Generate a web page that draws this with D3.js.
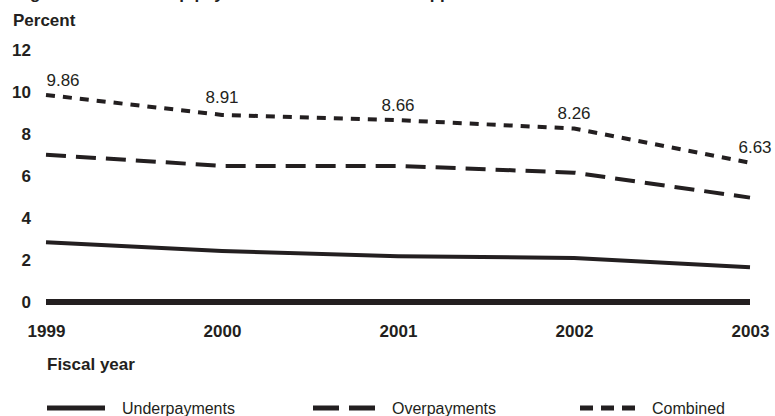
<!DOCTYPE html>
<html>
<head>
<meta charset="utf-8">
<script src="https://cdn.jsdelivr.net/npm/d3@7"></script>
<style>
  body { margin: 0; background: #fff; }
  text { font-family: "Liberation Sans", Arial, sans-serif; fill: #231f20; }
</style>
</head>
<body>
<svg id="chart"></svg>
<script>
let years = ["1999", "2000", "2001", "2002", "2003"];
let underpayments = [2.85, 2.43, 2.18, 2.10, 1.66];
let overpayments = [7.01, 6.48, 6.48, 6.16, 4.97];
let combined = [9.86, 8.91, 8.66, 8.26, 6.63];
let yTicks = [0, 2, 4, 6, 8, 10, 12];
let seriesNames = ["Underpayments", "Overpayments", "Combined"];

let makeChart = function () {
    let width = 775, height = 416;
    let svg = d3.select("#chart")
        .attr("width", width)
        .attr("height", height);

    let x = d3.scalePoint().domain(years).range([46, 750]);
    let y = d3.scaleLinear().domain([0, 12]).range([302, 50]);

    // title, mostly cut off at the top edge (as in the source)
    svg.append("text")
        .attr("x", 15)
        .attr("y", -1)
        .style("font-size", "17px")
        .style("font-weight", "bold")
        .text("Figure 1: Food Stamp payment error rates have dropped to record lows");

    svg.append("text")
        .attr("x", 13)
        .attr("y", 26)
        .style("font-size", "17px")
        .style("font-weight", "bold")
        .text("Percent");

    // y axis labels only
    let yAxis = d3.axisLeft(y).tickValues(yTicks).tickSize(0).tickPadding(0);
    let gy = svg.append("g")
        .attr("transform", "translate(31,0)")
        .call(yAxis);
    gy.select(".domain").remove();
    gy.selectAll("text")
        .style("font-size", "17px")
        .style("font-weight", "bold")
        .style("font-family", "'Liberation Sans', Arial, sans-serif")
        .attr("fill", "#231f20");

    // x axis labels
    let xAxis = d3.axisBottom(x).tickSize(0).tickPadding(0);
    let gx = svg.append("g")
        .attr("transform", "translate(0,325)")
        .call(xAxis);
    gx.select(".domain").remove();
    gx.selectAll("text")
        .style("font-size", "17px")
        .style("font-weight", "bold")
        .style("font-family", "'Liberation Sans', Arial, sans-serif")
        .attr("fill", "#231f20");

    svg.append("text")
        .attr("x", 47)
        .attr("y", 370)
        .style("font-size", "17px")
        .style("font-weight", "bold")
        .text("Fiscal year");

    // zero line
    svg.append("line")
        .attr("x1", x("1999"))
        .attr("x2", x("2003"))
        .attr("y1", y(0))
        .attr("y2", y(0))
        .attr("stroke", "#231f20")
        .attr("stroke-width", 6);

    let line = d3.line()
        .x(function (d, i) { return x(years[i]); })
        .y(function (d) { return y(d); });

    let dashes = ["none", "20,10", "9,8"];
    let series = [underpayments, overpayments, combined];

    series.forEach(function (s, k) {
        svg.append("path")
            .datum(s)
            .attr("d", line)
            .attr("fill", "none")
            .attr("stroke", "#231f20")
            .attr("stroke-width", 4)
            .attr("stroke-linejoin", "round")
            .attr("stroke-dasharray", dashes[k]);
    });

    // value labels on combined
    let shift = [17, 0, 0, 0, 5];
    let lift = [9, 12, 9, 10, 10];
    svg.selectAll(".vlab")
        .data(combined)
        .enter()
        .append("text")
        .attr("class", "vlab")
        .attr("x", function (d, i) { return x(years[i]) + shift[i]; })
        .attr("y", function (d, i) { return y(d) - lift[i]; })
        .attr("text-anchor", "middle")
        .style("font-size", "17px")
        .text(function (d) { return d.toFixed(2); });

    // legend
    let legX = [47, 313, 580];
    let legDash = ["none", "26,10", "13,8"];
    let legLen = [58, 62, 55];
    seriesNames.forEach(function (name, k) {
        svg.append("line")
            .attr("x1", legX[k])
            .attr("x2", legX[k] + legLen[k])
            .attr("y1", 408)
            .attr("y2", 408)
            .attr("stroke", "#231f20")
            .attr("stroke-width", 5)
            .attr("stroke-dasharray", legDash[k]);
        svg.append("text")
            .attr("x", legX[k] + legLen[k] + 17)
            .attr("y", 414)
            .style("font-size", "16px")
            .text(name);
    });
};

makeChart();
</script>
</body>
</html>
